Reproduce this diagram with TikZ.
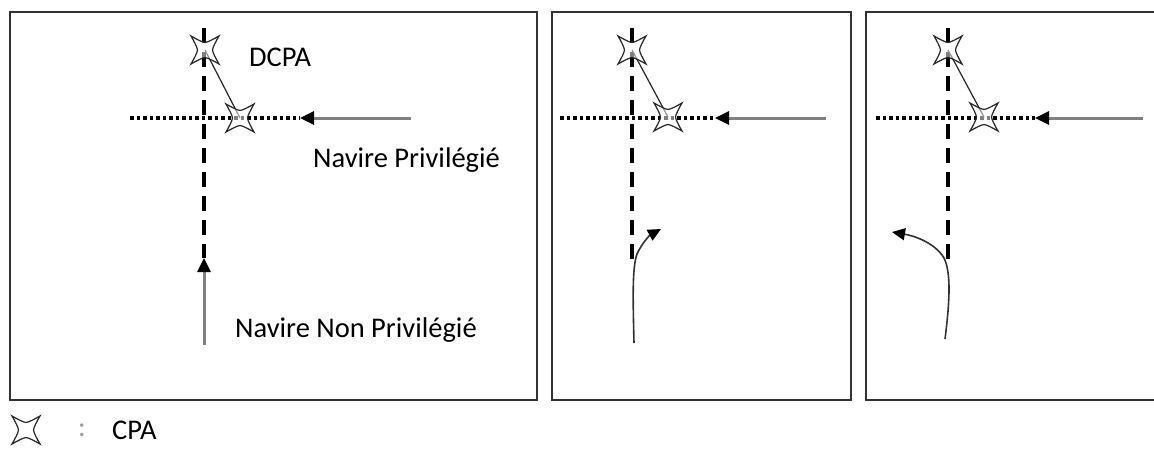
\documentclass[tikz,border=0pt]{standalone}
\usepackage{fontspec}
\setmainfont{Carlito}
\usetikzlibrary{arrows.meta}
\begin{document}
\begin{tikzpicture}[x=1pt,y=-1pt,
  frame/.style={draw=black!80,line width=1.8pt},
  dashline/.style={line width=3.6pt,dash pattern=on 15pt off 9pt},
  dotline/.style={line width=3.4pt,dash pattern=on 3.5pt off 3pt},
  grayarrow/.style={draw=black!50,line width=3pt,-{Triangle[length=14pt,width=13pt,fill=black,color=black]}},
  curvearrow/.style={draw=black!80,line width=1.6pt,-{Triangle[length=13pt,width=12pt,fill=black,color=black]}},
  link/.style={draw=black!85,line width=1.2pt},
  lbl/.style={anchor=west,inner sep=0pt,font=\fontsize{28.5}{34}\selectfont},
  pics/cpastar/.style={code={
    \draw[line width=1.2pt,black!85,line join=miter,fill=white,fill opacity=0.5]
      (14,-14) .. controls (10,-7) and (8,-3) .. (7.5,0)
      .. controls (8,3) and (10,7) .. (14,14)
      .. controls (7,10) and (3,8) .. (0,7.5)
      .. controls (-3,8) and (-7,10) .. (-14,14)
      .. controls (-10,7) and (-8,3) .. (-7.5,0)
      .. controls (-8,-3) and (-10,-7) .. (-14,-14)
      .. controls (-7,-10) and (-3,-8) .. (0,-7.5)
      .. controls (3,-8) and (7,-10) .. cycle;
  }}]
\useasboundingbox (0,0) rectangle (1154,450);
\fill[white] (0,0) rectangle (1154,450);
% frames
\draw[frame] (10,12) rectangle (537,400);
\draw[frame] (552,12) rectangle (851,400);
\draw[frame] (1160,12) -- (866,12) -- (866,400) -- (1160,400);

% ---------- panel 1 ----------
\coordinate (v1t) at (204,28);
\coordinate (v1b) at (204,258);
\coordinate (h1l) at (130,118);
\coordinate (h1a) at (300,118);
\coordinate (h1r) at (411,118);
\coordinate (n1b) at (204,345);
\draw[dashline] (v1t) -- (v1b);
\draw[dotline] (h1l) -- (h1a);
\draw[grayarrow] (h1r) -- (h1a);
\draw[grayarrow] (n1b) -- (v1b);
\coordinate (s1u) at (205,50);
\coordinate (s1l) at (240,118);
\draw[link] (s1u) -- (s1l);
\pic at (s1u) {cpastar};
\pic at (s1l) {cpastar};
\node[lbl] (dcpa) at (249,57) {DCPA};
\node[lbl] (np) at (313,160) {Navire Privilégié};
\node[lbl] (nnp) at (235,330) {Navire Non Privilégié};

% ---------- panel 2 ----------
\coordinate (v2t) at (632,28);
\coordinate (v2b) at (632,265);
\coordinate (h2l) at (560,118);
\coordinate (h2a) at (715,118);
\coordinate (h2r) at (826,118);
\draw[dashline] (v2t) -- (v2b);
\draw[dotline] (h2l) -- (h2a);
\draw[grayarrow] (h2r) -- (h2a);
\coordinate (s2u) at (632,50);
\coordinate (s2l) at (668,117);
\draw[link] (s2u) -- (s2l);
\pic at (s2u) {cpastar};
\pic at (s2l) {cpastar};
\coordinate (c2b) at (634,343);
\coordinate (c2m) at (637,254);
\coordinate (c2t) at (661,229);
\draw[curvearrow] (c2b) .. controls (633,300) and (632,268) .. (c2m)
  .. controls (642,243) and (650,235) .. (c2t);

% ---------- panel 3 ----------
\coordinate (v3t) at (948,28);
\coordinate (v3b) at (948,265);
\coordinate (h3l) at (876,118);
\coordinate (h3a) at (1035,118);
\coordinate (h3r) at (1143,118);
\draw[dashline] (v3t) -- (v3b);
\draw[dotline] (h3l) -- (h3a);
\draw[grayarrow] (h3r) -- (h3a);
\coordinate (s3u) at (948,50);
\coordinate (s3l) at (984,117);
\draw[link] (s3u) -- (s3l);
\pic at (s3u) {cpastar};
\pic at (s3l) {cpastar};
\coordinate (c3b) at (945,339);
\coordinate (c3m) at (944,258);
\coordinate (c3t) at (892,232);
\draw[curvearrow] (c3b) .. controls (950,300) and (951,272) .. (c3m)
  .. controls (935,243) and (915,236) .. (c3t);

% ---------- legend ----------
\coordinate (lg) at (26,430);
\pic at (lg) {cpastar};
\node[lbl,text=black!40] (colon) at (78,430) {:};
\node[lbl] (cpa) at (112,430) {CPA};
\end{tikzpicture}
\end{document}
